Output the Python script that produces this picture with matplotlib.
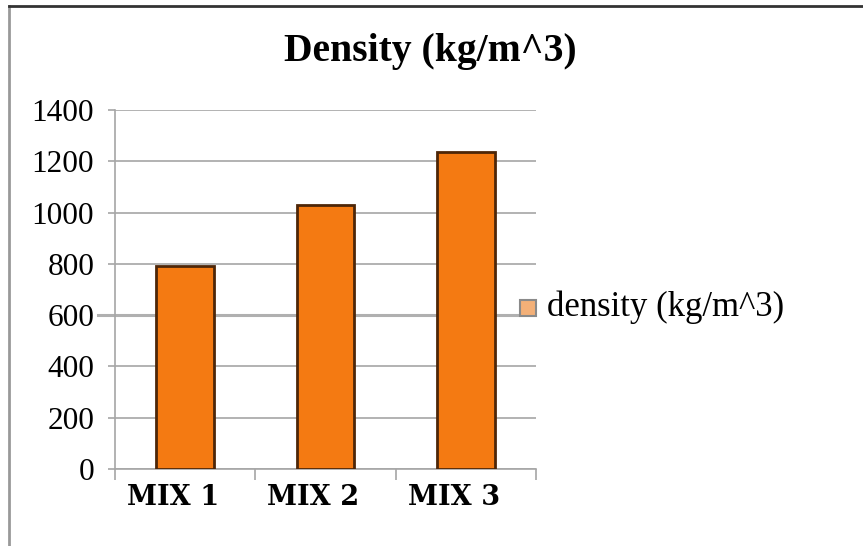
#!/usr/bin/env python3
import matplotlib
matplotlib.use("Agg")
import matplotlib.pyplot as plt
from matplotlib.lines import Line2D
from matplotlib.patches import Rectangle
from matplotlib.transforms import ScaledTranslation

categories = ["MIX 1", "MIX 2", "MIX 3"]
density = [790, 1030, 1235]
yticks = [0, 200, 400, 600, 800, 1000, 1200, 1400]
seriesName = "density (kg/m^3)"
chartTitle = "Density (kg/m^3)"

W, H = 863, 546
fig = plt.figure(figsize=(W / 100, H / 100), dpi=100)

# axes box in pixels: x 115..536, y 110..469
ax = fig.add_axes([115 / W, 1 - 469 / H, (536 - 115) / W, (469 - 110) / H])

grid_c = "#a6a6a6"
xs = list(range(len(categories)))
ax.bar(xs, density, width=0.41, color="#f47a12", edgecolor="#4d2608", linewidth=2, zorder=3)

ax.set_xlim(-0.5, 2.5)
ax.set_ylim(0, 1400)
ax.set_yticks(yticks)
ax.set_yticklabels([str(t) for t in yticks], fontfamily="Liberation Serif", fontsize=22.5)
ax.yaxis.grid(True, color=grid_c, linewidth=1.2, zorder=0)
ax.tick_params(axis="y", length=5, width=1.2, color=grid_c, pad=10)

ax.set_xticks([-0.5, 0.5, 1.5, 2.5])
ax.set_xticklabels([])
ax.tick_params(axis="x", length=8, width=1.2, color=grid_c)
ax.set_xticks(xs, minor=True)
ax.set_xticklabels(categories, minor=True, fontfamily="DejaVu Serif", fontweight="bold", fontsize=19.5)
ax.tick_params(axis="x", which="minor", length=0, pad=11)
for lbl in ax.get_xticklabels(minor=True):
    lbl.set_transform(lbl.get_transform() + ScaledTranslation(-0.12, 0, fig.dpi_scale_trans))

for s in ["top", "right"]:
    ax.spines[s].set_visible(False)
for s in ["left", "bottom"]:
    ax.spines[s].set_color(grid_c)
    ax.spines[s].set_linewidth(1.2)

# the 600 line that runs across to the legend
ax.plot([-0.04, 0.955], [600, 600], transform=ax.get_yaxis_transform(), color="#b0b0b0",
        linewidth=2.2, clip_on=False, zorder=2)

fig.text(430 / W, 1 - 52 / H, chartTitle, ha="center", va="center", fontfamily="Liberation Serif",
         fontweight="bold", fontsize=28.5)

# legend
fig.patches.append(Rectangle((520 / W, 1 - 316 / H), 16 / W, 16 / H, transform=fig.transFigure,
                             facecolor="#f3b078", edgecolor="#8a8a8a", linewidth=1.5))
fig.text(547 / W, 1 - 307 / H, seriesName, ha="left", va="center", fontfamily="Liberation Serif",
         fontsize=25)

# outer frame
fig.lines.append(Line2D([9 / W, 9 / W], [0, 1 - 6 / H], transform=fig.transFigure, color="#999999", linewidth=2))
fig.lines.append(Line2D([9 / W, 862 / W], [1 - 6 / H, 1 - 6 / H], transform=fig.transFigure, color="#333333", linewidth=2))

fig.savefig("out.png", dpi=100)
